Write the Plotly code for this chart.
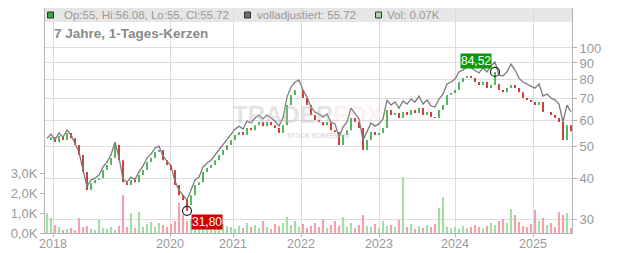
import math
import plotly.graph_objects as go

# ---------------- data ----------------
closes = [52.3, 53.4, 51.6, 53.8, 52.3, 55.0, 53.0, 50.5, 47.1, 41.8,
          36.8, 38.6, 39.5, 40.0, 42.4, 43.9, 46.1, 50.5, 45.4, 38.9,
          38.1, 39.5, 38.9, 40.9, 42.4, 44.8, 46.1, 48.1, 48.8, 45.4,
          43.9, 42.4, 38.1, 35.5, 34.3, 33.1, 35.5, 38.1, 38.9, 41.8,
          43.0, 43.9, 45.4, 47.1, 48.8, 50.5, 52.3, 54.2, 55.4, 54.2,
          56.9, 56.1, 58.1, 59.4, 57.7, 59.4, 58.1, 56.9, 55.0, 58.1,
          66.9, 71.8, 74.4, 74.4, 70.3, 66.9, 62.4, 60.2, 59.4, 58.1,
          59.4, 56.1, 55.4, 50.5, 54.2, 56.1, 61.1, 59.4, 56.9, 48.8,
          52.3, 55.4, 54.2, 55.0, 56.9, 64.6, 62.4, 63.3, 61.1, 63.7,
          62.4, 64.6, 63.3, 65.5, 62.4, 63.7, 61.5, 61.1, 64.6, 66.9,
          71.8, 72.8, 74.4, 78.7, 80.9, 82.1, 80.9, 78.7, 77.1, 78.7,
          75.4, 77.1, 77.6, 74.4, 73.3, 75.4, 77.1, 75.4, 73.3, 70.3,
          69.3, 68.4, 66.9, 68.4, 63.7, 63.7, 62.4, 61.1, 59.4, 52.3,
          58.1, 55.7]

adjusted = [53.0, 54.6, 52.3, 55.0, 53.4, 56.1, 54.2, 51.2, 48.1, 42.4,
            37.8, 39.5, 40.0, 40.9, 43.3, 44.8, 47.1, 51.6, 46.4, 39.7,
            38.9, 40.3, 39.7, 41.8, 43.6, 46.1, 47.4, 49.5, 50.1, 46.7,
            45.1, 43.6, 39.2, 36.8, 35.5, 34.3, 36.8, 39.5, 40.3, 43.3,
            44.5, 45.4, 47.1, 48.8, 50.5, 52.7, 54.6, 56.5, 57.7, 56.5,
            59.8, 59.0, 61.1, 62.4, 60.7, 62.4, 61.1, 59.8, 57.7, 61.1,
            70.8, 76.0, 78.7, 79.8, 74.4, 70.8, 66.0, 63.7, 62.8, 61.5,
            62.8, 59.4, 58.6, 53.4, 57.3, 59.4, 65.5, 63.3, 60.7, 52.3,
            55.7, 59.0, 57.7, 58.6, 60.7, 69.3, 66.9, 68.4, 65.5, 68.9,
            67.4, 69.8, 68.4, 71.3, 67.4, 69.3, 66.5, 66.0, 69.8, 72.3,
            77.6, 78.7, 80.4, 84.5, 85.6, 87.5, 86.9, 85.6, 83.9, 86.9,
            84.5, 88.1, 90.6, 82.7, 82.1, 84.5, 89.3, 85.6, 80.9, 78.7,
            77.6, 76.5, 75.4, 77.6, 71.3, 72.3, 70.3, 69.3, 67.4, 59.4,
            66.9, 63.7]

volumes_k = [1.0, 0.75, 0.4, 0.3, 0.15, 0.2, 0.25, 0.15, 0.75, 0.3,
             0.35, 0.2, 0.15, 0.65, 0.25, 0.2, 0.3, 0.15, 0.35, 1.9,
             0.3, 1.0, 0.25, 1.05, 0.3, 0.45, 0.55, 0.3, 0.5, 0.4,
             0.3, 0.45, 0.6, 1.5, 0.9, 0.6, 0.7, 0.4, 0.3, 0.5,
             0.35, 0.25, 0.4, 0.3, 0.45, 0.35, 0.3, 0.2, 0.35, 0.25,
             0.5, 0.3, 0.4, 0.25, 0.6, 0.3, 0.2, 0.45, 0.35, 0.5,
             0.8, 0.4, 0.6, 0.3, 0.45, 0.25, 0.35, 0.5, 0.3, 0.7,
             0.25, 0.4, 0.6, 0.35, 0.8, 0.3, 0.5, 0.25, 0.4, 0.9,
             0.35, 0.3, 0.45, 0.25, 0.6, 0.35, 0.4, 0.3, 0.65, 2.8,
             0.3, 0.45, 0.2, 0.35, 0.25, 0.4, 0.3, 0.45, 1.25, 1.8,
             0.3, 0.25, 0.3, 0.2, 0.35, 0.25, 0.3, 0.4, 0.3, 0.25,
             0.35, 0.5, 0.4, 0.6, 0.7, 0.5, 1.2, 0.9, 0.55, 0.35,
             0.3, 0.45, 1.15, 0.6, 0.75, 0.4, 0.5, 0.3, 1.05, 0.9,
             1.0, 0.25]

year_labels = ["2018", "2020", "2021", "2022", "2023", "2024", "2025"]
year_positions = [1.5, 30.75, 46.5, 63.5, 83, 102, 121.5]   # sample index of Jan 1st
price_ticks = [30, 40, 50, 60, 70, 80, 90, 100]
volume_ticks = [0, 1, 2, 3]
volume_tick_labels = ["0,0K", "1,0K", "2,0K", "3,0K"]
high_mark_index, high_mark_value, high_mark_text = 112, 84.52, "84,52"
low_mark_index, low_mark_value, low_mark_text = 35, 31.80, "31,80"

header_ohlc = "Op:55, Hi:56.08, Lo:55, Cl:55.72"
header_adj = "volladjustiert: 55.72"
header_vol = "Vol: 0.07K"
title_text = "7 Jahre, 1-Tages-Kerzen"

# ---------------- derived candle arrays ----------------
n = len(closes)
idx = list(range(n))
opens = [closes[0]] + closes[:-1]
highs = [max(o, c) for o, c in zip(opens, closes)]
lows = [min(o, c) for o, c in zip(opens, closes)]
highs[high_mark_index] = high_mark_value
lows[low_mark_index] = low_mark_value

GREEN = "#2fa52f"
RED = "#c80f0f"
VOL_GREEN = "#a6dca6"
VOL_RED = "#f2a2aa"
vol_colors = [VOL_GREEN if c >= o else VOL_RED for o, c in zip(opens, closes)]

FONT = "Liberation Sans, Arial, sans-serif"
TXT = "#999999"

fig = go.Figure()

fig.add_trace(go.Bar(x=idx, y=volumes_k, width=0.55, marker=dict(color=vol_colors, line=dict(width=0)),
                     yaxis="y", hoverinfo="skip"))

fig.add_trace(go.Scatter(x=idx, y=adjusted, mode="lines", line=dict(color="#7c7c7c", width=1.3),
                         yaxis="y2", hoverinfo="skip"))

fig.add_trace(go.Ohlc(x=idx, open=opens, high=highs, low=lows, close=closes,
                      increasing=dict(line=dict(color=GREEN, width=1.6)),
                      decreasing=dict(line=dict(color=RED, width=1.6)),
                      tickwidth=0, yaxis="y2", hoverinfo="skip"))

fig.add_trace(go.Scatter(x=[high_mark_index, low_mark_index], y=[high_mark_value, low_mark_value],
                         mode="markers", marker=dict(symbol="circle-open", size=9, color="#222222",
                                                     line=dict(width=1.2)),
                         yaxis="y2", hoverinfo="skip"))

top_v, bot_v = 132.5, 27.2

fig.update_layout(
    width=632, height=253,
    margin=dict(l=45, r=60, t=8, b=20, autoexpand=False),
    paper_bgcolor="white", plot_bgcolor="white",
    showlegend=False,
    font=dict(family=FONT, size=12, color=TXT),
    xaxis=dict(range=[-0.5, 131.25], tickvals=year_positions, ticktext=year_labels,
               showgrid=True, gridcolor="#dcdcdc", gridwidth=1, zeroline=False, automargin=False,
               showline=True, linecolor="#b4b4b4", ticks="outside", ticklen=3, tickcolor="#b4b4b4",
               ticklabelstandoff=-4,
               tickfont=dict(size=12.5, color=TXT, family=FONT), rangeslider=dict(visible=False),
               fixedrange=True),
    yaxis=dict(range=[0, 11.25], tickvals=volume_ticks, ticktext=volume_tick_labels, side="left",
               showgrid=False, zeroline=False, showline=True, linecolor="#b4b4b4", automargin=False,
               ticks="outside", ticklen=4, tickcolor="#b4b4b4",
               tickfont=dict(size=13, color=TXT, family=FONT), fixedrange=True),
    yaxis2=dict(type="log", range=[math.log10(bot_v), math.log10(top_v)], overlaying="y", side="right",
                tickvals=price_ticks, ticktext=[str(t) for t in price_ticks], automargin=False,
                showgrid=True, gridcolor="#dcdcdc", zeroline=False, showline=True, linecolor="#b4b4b4",
                ticks="outside", ticklen=4, tickcolor="#b4b4b4",
                tickfont=dict(size=13, color=TXT, family=FONT), fixedrange=True),
)

# header band (paper coords: plot area spans pixel rows 8..233, cols 45..572)
def px_x(p):
    return (p - 45) / 527.0

def px_y(p):
    return (233 - p) / 225.0

shapes = [
    dict(type="rect", xref="paper", yref="paper", x0=0, x1=1, y0=px_y(22), y1=1,
         fillcolor="#e6e6e6", line=dict(width=0), layer="below"),
    dict(type="rect", xref="paper", yref="paper", x0=px_x(47.5), x1=px_x(53.5), y0=px_y(18), y1=px_y(12),
         fillcolor="#3aa83a", line=dict(color="#333333", width=1)),
    dict(type="rect", xref="paper", yref="paper", x0=px_x(244.5), x1=px_x(250.5), y0=px_y(18), y1=px_y(12),
         fillcolor="#6e6e6e", line=dict(color="#333333", width=1)),
    dict(type="rect", xref="paper", yref="paper", x0=px_x(375.5), x1=px_x(381.5), y0=px_y(18), y1=px_y(12),
         fillcolor="#a6dca6", line=dict(color="#333333", width=1)),
]
fig.update_layout(shapes=shapes)

ann = []
ann.append(dict(xref="paper", yref="paper", x=px_x(62), y=px_y(15), xanchor="left", yanchor="middle",
                text=header_ohlc, showarrow=False, font=dict(size=11.5, color=TXT, family=FONT)))
ann.append(dict(xref="paper", yref="paper", x=px_x(255), y=px_y(15), xanchor="left", yanchor="middle",
                text=header_adj, showarrow=False, font=dict(size=11.5, color=TXT, family=FONT)))
ann.append(dict(xref="paper", yref="paper", x=px_x(385), y=px_y(15), xanchor="left", yanchor="middle",
                text=header_vol, showarrow=False, font=dict(size=11.5, color=TXT, family=FONT)))
ann.append(dict(xref="paper", yref="paper", x=px_x(52), y=px_y(33), xanchor="left", yanchor="middle",
                text="<b>" + title_text + "</b>", showarrow=False,
                font=dict(size=13.5, color="#8a8a8a", family=FONT)))
# watermark
ann.append(dict(xref="paper", yref="paper", x=px_x(307), y=px_y(115), xanchor="center", yanchor="middle",
                text="<b>TRADER<span style='color:rgba(240,160,160,0.4)'>FOX</span></b>", showarrow=False,
                font=dict(size=24, color="rgba(185,185,185,0.4)", family=FONT)))
ann.append(dict(xref="paper", yref="paper", x=px_x(318), y=px_y(135), xanchor="center", yanchor="middle",
                text="<b>STOCK SCREENING</b>", showarrow=False,
                font=dict(size=6.5, color="rgba(185,185,185,0.5)", family=FONT)))
# extreme labels
ann.append(dict(xref="x", yref="y2", x=high_mark_index, y=math.log10(high_mark_value),
                text=high_mark_text, showarrow=True, arrowcolor="rgba(0,0,0,0)", arrowwidth=0.1,
                ax=-19, ay=-11, bgcolor="#0a9a0a", borderpad=0,
                font=dict(size=12, color="white", family=FONT)))
ann.append(dict(xref="x", yref="y2", x=low_mark_index, y=math.log10(low_mark_value),
                text=low_mark_text, showarrow=True, arrowcolor="rgba(0,0,0,0)", arrowwidth=0.1,
                ax=20, ay=11, bgcolor="#d40000", borderpad=0,
                font=dict(size=12, color="white", family=FONT)))
fig.update_layout(annotations=ann)

fig.write_html("out.html")
